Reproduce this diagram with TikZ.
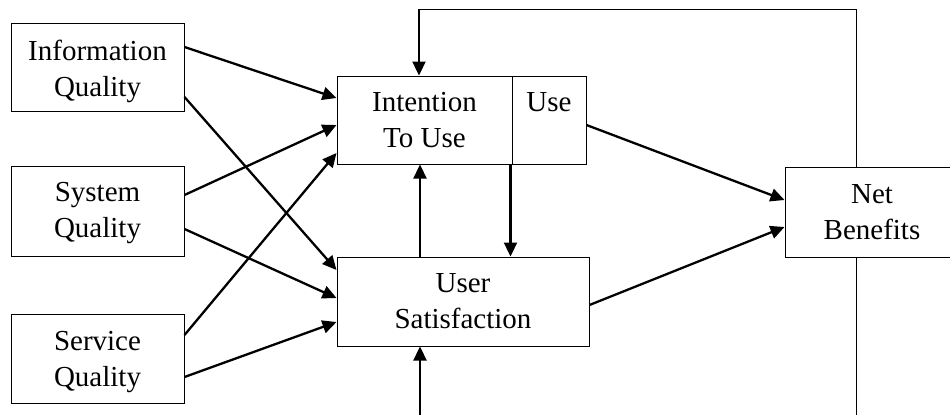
\documentclass[tikz,border=0pt]{standalone}
\usepackage{fontspec}
\setmainfont{Liberation Serif}
\usetikzlibrary{arrows.meta}
\begin{document}
\begin{tikzpicture}[x=0.5pt,y=-0.5pt,
  box/.style={draw,line width=0.5pt,align=center,inner sep=0pt,
    font=\fontsize{14.5}{18}\selectfont},
  lbl/.style={align=center,inner sep=0pt,font=\fontsize{14.5}{18}\selectfont},
  arr/.style={line width=1.15pt,-{Triangle[length=7pt,width=6.5pt]}},
  thinline/.style={line width=0.4pt}]
\useasboundingbox (0,0) rectangle (950,414);
\clip (0,0) rectangle (950,414);
\fill[white] (0,0) rectangle (950,414);
\node[box,minimum width=86.5pt,minimum height=44pt] (info) at (97.5,67) {};
\node[lbl] (infot) at (97.5,71) {Information\\Quality};
\node[box,minimum width=86.5pt,minimum height=45pt] (sys) at (97.5,211.5) {};
\node[lbl] (syst) at (97.5,213) {System\\Quality};
\node[box,minimum width=86.5pt,minimum height=44.5pt] (serv) at (97.5,358.5) {};
\node[lbl] (servt) at (97.5,362) {Service\\Quality};
\node[box,minimum width=87.5pt,minimum height=44pt] (intent) at (424.5,120) {Intention\\To Use};
\node[box,minimum width=37pt,minimum height=44pt] (use) at (549,120) {Use\\\phantom{U}};
\node[box,minimum width=126pt,minimum height=44.5pt] (usat) at (463,301.5) {User\\Satisfaction};
\node[box,minimum width=87pt,minimum height=45pt] (net) at (872,212) {Net\\Benefits};
\coordinate (tr) at (856,9);
\coordinate (tl) at (419,9);
\coordinate (br) at (856,430);
\coordinate (bl) at (420,430);
% inputs
\draw[arr] ([yshift=10pt]info.east) -- ([yshift=11pt]intent.west);
\draw[arr] ([yshift=-15pt]info.east) -- ([yshift=15.75pt]usat.west);
\draw[arr] ([yshift=8.25pt]sys.east) -- ([yshift=-2.5pt]intent.west);
\draw[arr] ([yshift=-8.75pt]sys.east) -- ([yshift=1.75pt]usat.west);
\draw[arr] ([yshift=11.75pt]serv.east) -- ([yshift=-16.5pt]intent.west);
\draw[arr] ([yshift=-9.25pt]serv.east) -- ([yshift=-10.25pt]usat.west);
% to net benefits
\draw[arr] ([yshift=-2.5pt]use.east) -- ([yshift=6pt]net.west);
\draw[arr] ([yshift=-1.75pt]usat.east) -- ([yshift=-7.5pt]net.west);
% between intention and satisfaction
\draw[arr] ([xshift=-21.5pt]usat.north) -- ([xshift=-21.5pt]usat.north |- intent.south);
\draw[arr] ([xshift=-1pt]intent.south east) -- ([xshift=-1pt]intent.south east |- usat.north);
% feedback loops
\draw[thinline] ([xshift=-8pt]net.north) -- (tr) -- (tl);
\draw[arr] (tl) -- (tl |- intent.north);
\draw[thinline] ([xshift=-8pt]net.south) -- (br);
\draw[arr] (bl) -- (bl |- usat.south);
\end{tikzpicture}
\end{document}
